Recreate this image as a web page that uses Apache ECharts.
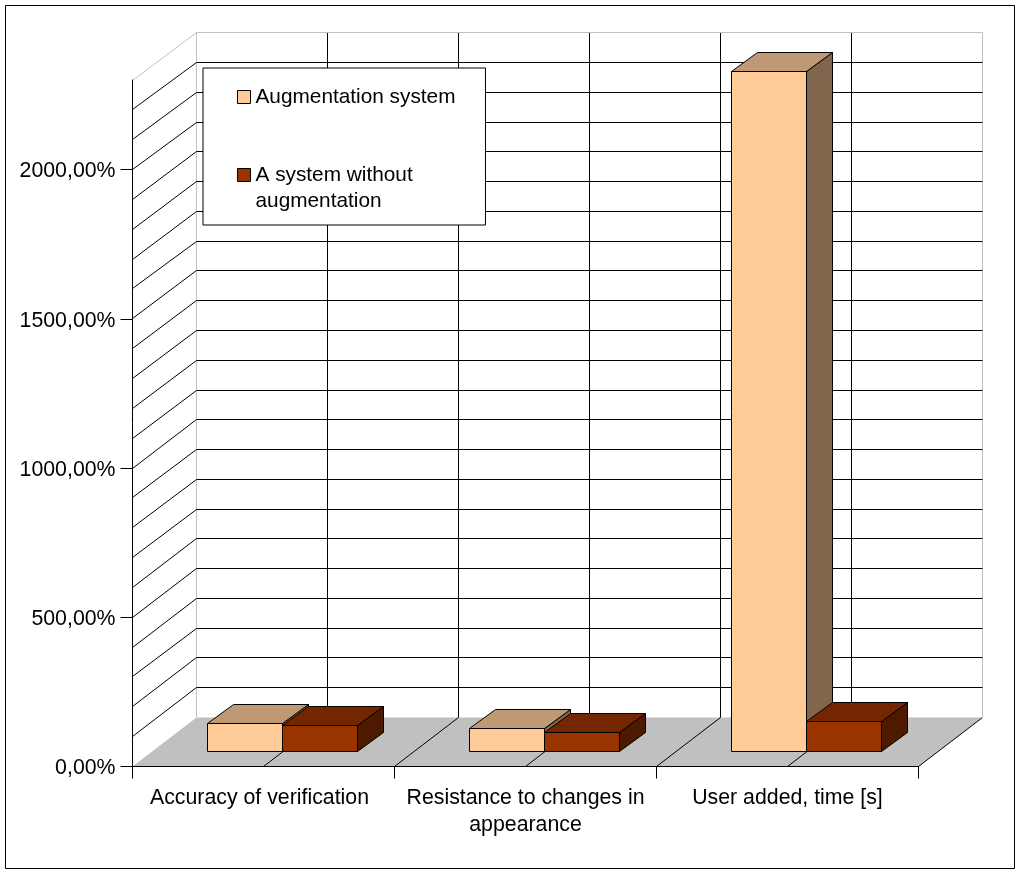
<!DOCTYPE html>
<html>
<head>
<meta charset="utf-8">
<style>html,body{margin:0;padding:0;background:#fff}#c{width:1021px;height:874px}</style>
<script src="https://cdn.jsdelivr.net/npm/echarts@6/dist/echarts.min.js"></script>
</head>
<body>
<div id="c"></div>
<script>
const categories = ['Accuracy of verification', 'Resistance to changes in\nappearance', 'User added, time [s]'];
const seriesNames = ['Augmentation system', 'A system without\naugmentation'];
const augmented = [94, 77, 2277];
const withoutAugmentation = [87, 64, 100];
const yTicks = [0, 500, 1000, 1500, 2000];
const gridValues = [100,200,300,400,500,600,700,800,900,1000,1100,1200,1300,1400,1500,1600,1700,1800,1900,2000,2100,2200,2300];
const halfBands = [-0.5, 0, 0.5, 1, 1.5, 2, 2.5];
const yMax = 2300;

const FONT = '"Liberation Sans", Arial, sans-serif';
const FS = 21.3;
const WALL_DX = 64, WALL_DY = -49, WALL_SCALE = 0.9973;
const BAR_BASE = [19, -15], BAR_DEPTH = [25.5, -19], BAR_W = 75;
const crisp = p => [Math.floor(p[0]) + 0.5, Math.floor(p[1]) + 0.5];
const shift = (p, d) => [p[0] + d[0], p[1] + d[1]];
const line = (a, b, color) => ({type: 'line', shape: {x1: a[0], y1: a[1], x2: b[0], y2: b[1]}, style: {stroke: color, lineWidth: 1}});

const chart = echarts.init(document.getElementById('c'), null, {renderer: 'canvas'});

function toBack(p, y0) { return [p[0] + WALL_DX, y0 + WALL_DY + (p[1] - y0) * WALL_SCALE]; }

function renderFloor(params, api) {
  const o = api.coord([0, 0]), band = api.size([1, 0])[0];
  const a = [o[0] - band / 2, o[1]], b = [a[0] + band * categories.length, o[1]];
  return {type: 'group', children: [
    {type: 'polygon', shape: {points: [a, b, toBack(b, o[1]), toBack(a, o[1])]}, style: {fill: '#c0c0c0', stroke: null}},
    line(crisp(b), crisp(toBack(b, o[1])), '#000')
  ]};
}
function renderGrid(params, api) {
  const v = api.value(0);
  const y0 = api.coord([0, 0])[1];
  const o = api.coord([0, v]), band = api.size([1, 0])[0];
  const a = [o[0] - band / 2, o[1]], back = toBack(a, y0), end = [back[0] + band * categories.length, back[1]];
  const c = v >= yMax ? '#c0c0c0' : '#000';
  return {type: 'group', children: [line(crisp(a), crisp(back), c), line(crisp(back), crisp(end), c)]};
}
function renderVertical(params, api) {
  const pos = api.value(0);
  const o = api.coord([0, 0]), top = api.coord([0, yMax]), band = api.size([1, 0])[0];
  const x = o[0] + band * pos;
  const edge = pos === -0.5 || pos === categories.length - 0.5;
  const fb = toBack([x, o[1]], o[1]), tb = toBack([x, top[1]], o[1]);
  const children = [line(crisp(fb), crisp(tb), edge ? '#c0c0c0' : '#000')];
  if (!edge) children.push(line(crisp([x, o[1]]), crisp(fb), '#000'));
  return {type: 'group', children};
}
function barRenderer(side, front, topC, sideC) {
  return function (params, api) {
    const cat = api.value(0), v = api.value(1);
    const c0 = api.coord([cat, 0]), c1 = api.coord([cat, v]);
    const baseX = c0[0] + BAR_BASE[0];
    const xL = side < 0 ? baseX - BAR_W : baseX, xR = side < 0 ? baseX : baseX + BAR_W;
    const yB = c0[1] + BAR_BASE[1], yT = c1[1] + BAR_BASE[1];
    const fl = crisp([xL, yB]), fr = crisp([xR, yB]), tl = crisp([xL, yT]), tr = crisp([xR, yT]);
    const tlb = crisp(shift([xL, yT], BAR_DEPTH)), trb = crisp(shift([xR, yT], BAR_DEPTH)), brb = crisp(shift([xR, yB], BAR_DEPTH));
    const s = {stroke: '#000', lineWidth: 1};
    return {type: 'group', children: [
      {type: 'polygon', shape: {points: [tr, trb, brb, fr]}, style: Object.assign({fill: sideC}, s)},
      {type: 'polygon', shape: {points: [tl, tlb, trb, tr]}, style: Object.assign({fill: topC}, s)},
      {type: 'polygon', shape: {points: [tl, tr, fr, fl]}, style: Object.assign({fill: front}, s)}
    ]};
  };
}

chart.setOption({
  animation: false,
  backgroundColor: '#fff',
  graphic: [{type: 'rect', left: 5, top: 5, shape: {x: 0.5, y: 0.5, width: 1009, height: 863}, style: {fill: 'transparent', stroke: '#000', lineWidth: 1}, z: 100, silent: true}],
  grid: {left: 132.5, right: 102.5, top: 80, bottom: 107.5},
  legend: {
    orient: 'vertical', left: 203, top: 68, icon: 'rect',
    backgroundColor: '#fff', borderColor: '#000', borderWidth: 1,
    padding: [16, 30, 11, 34], itemWidth: 13, itemHeight: 13, itemGap: 26,
    textStyle: {fontFamily: FONT, fontSize: 20.8, color: '#000', lineHeight: 26},
    itemStyle: {borderColor: '#000', borderWidth: 1},
    formatter: name => name.indexOf('\n') >= 0 ? '\n' + name : name,
    data: [{name: seriesNames[0]}, {name: seriesNames[1]}]
  },
  xAxis: {
    type: 'category', data: categories, boundaryGap: true, z: 3,
    axisLine: {lineStyle: {color: '#000', width: 1}},
    axisTick: {show: true, length: 12, alignWithLabel: false, lineStyle: {color: '#000'}},
    axisLabel: {
      interval: 0, color: '#000', fontFamily: FONT, fontSize: FS, lineHeight: 27, margin: 18,
      formatter: (v, i) => i === 0 ? '{s|' + v + '}' : v,
      rich: {s: {padding: [0, 8, 0, 0], fontFamily: FONT, fontSize: FS, color: '#000', lineHeight: 27}}
    },
    splitLine: {show: false}
  },
  yAxis: {
    type: 'value', min: 0, max: yMax, interval: 500, z: 3,
    axisLine: {show: true, lineStyle: {color: '#000', width: 1}},
    axisTick: {show: true, length: 12, customValues: yTicks, lineStyle: {color: '#000'}},
    axisLabel: {
      color: '#000', fontFamily: FONT, fontSize: FS, margin: 17, customValues: yTicks,
      formatter: v => '{n|' + v.toFixed(2).replace('.', ',') + '%}',
      rich: {n: {padding: [4, 0, 0, 0], fontFamily: FONT, fontSize: FS, color: '#000'}}
    },
    splitLine: {show: false}
  },
  series: [
    {type: 'custom', name: 'floor', z: 1, silent: true, data: [[0]], renderItem: renderFloor, encode: {x: -1, y: -1}},
    {type: 'custom', name: 'verticals', z: 1, silent: true, data: halfBands.map(v => [v]), renderItem: renderVertical, encode: {x: -1, y: -1}},
    {type: 'custom', name: 'gridlines', z: 1, silent: true, data: gridValues.map(v => [v]), renderItem: renderGrid, encode: {x: -1, y: -1}},
    {type: 'custom', name: seriesNames[0], z: 2, itemStyle: {color: '#ffcc99'},
      data: augmented.map((v, i) => [i, v]), encode: {x: 0, y: 1},
      renderItem: barRenderer(-1, '#ffcc99', '#bf9973', '#80664d')},
    {type: 'custom', name: seriesNames[1], z: 2, itemStyle: {color: '#993300'},
      data: withoutAugmentation.map((v, i) => [i, v]), encode: {x: 0, y: 1},
      renderItem: barRenderer(1, '#993300', '#732600', '#4d1a00')}
  ]
});
</script>
</body>
</html>
